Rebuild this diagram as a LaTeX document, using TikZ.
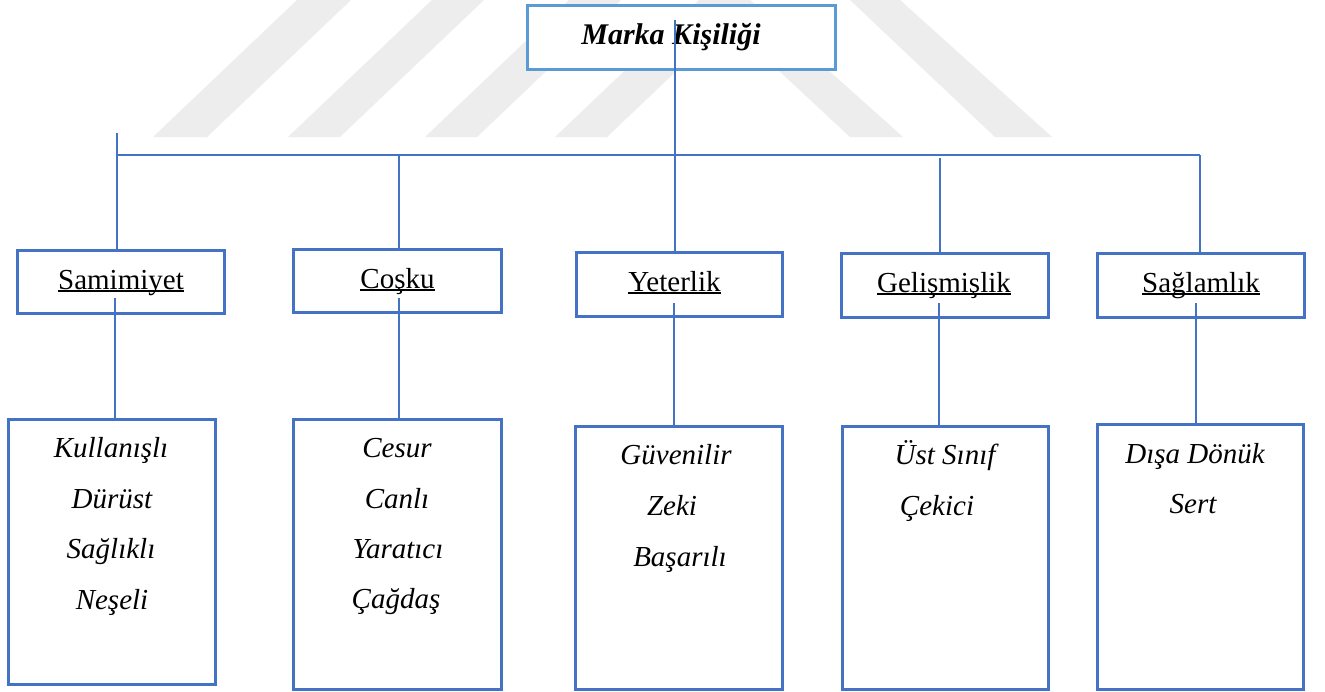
\documentclass[tikz,border=0pt]{standalone}
\usepackage{fontspec}
\setmainfont{Liberation Serif}
\newcommand{\ulinetext}[1]{\setbox0\hbox{#1}\rlap{\rule[-2.6pt]{\wd0}{1.8pt}}\box0}
\definecolor{lineblue}{HTML}{4472C4}
\definecolor{topblue}{HTML}{5B9BD5}
\definecolor{wmgray}{HTML}{EDEDED}
\tikzset{
  box/.style={draw=lineblue, line width=3pt, fill=white, inner sep=0pt},
  topbox/.style={draw=topblue, line width=3pt, fill=white, inner sep=0pt},
  conn/.style={draw=lineblue, line width=1.4pt},
  hconn/.style={draw=lineblue, line width=2pt},
  lbl/.style={anchor=base, inner sep=0pt, font=\fontsize{29}{35}\selectfont},
  ilbl/.style={lbl, font=\fontsize{29}{35}\selectfont\itshape},
  tlbl/.style={lbl, font=\fontsize{30}{36}\selectfont\bfseries\itshape},
  wm/.style={fill=wmgray}
}
\begin{document}
\begin{tikzpicture}[x=1pt,y=-1pt]
\useasboundingbox (0,0) rectangle (1325,691);
\fill[white] (0,0) rectangle (1325,691);
% watermark stripes
\fill[wm] (153,137) -- (207,137) -- (351,0) -- (297,0) -- cycle;
\fill[wm] (288,137) -- (340,137) -- (484,0) -- (432,0) -- cycle;
\fill[wm] (425,137) -- (477,137) -- (621,0) -- (569,0) -- cycle;
\fill[wm] (555,137) -- (607,137) -- (751,0) -- (699,0) -- cycle;
\fill[wm] (703,0) -- (750,0) -- (903,137) -- (850,137) -- cycle;
\fill[wm] (850,0) -- (900,0) -- (1052,137) -- (995,137) -- cycle;

% boxes
\node[topbox, minimum width=308pt, minimum height=64pt] (top) at (681,37) {};
\node[box, minimum width=207pt, minimum height=63pt] (sam) at (120.5,281.5) {};
\node[box, minimum width=208pt, minimum height=63pt] (cos) at (397,280.5) {};
\node[box, minimum width=206pt, minimum height=64pt] (yet) at (679,284) {};
\node[box, minimum width=207pt, minimum height=64pt] (gel) at (944.5,285) {};
\node[box, minimum width=207pt, minimum height=64pt] (sag) at (1200.5,285) {};
\node[box, minimum width=207pt, minimum height=265pt] (kul) at (111.5,551.5) {};
\node[box, minimum width=208pt, minimum height=270pt] (ces) at (397,554) {};
\node[box, minimum width=207pt, minimum height=263pt] (guv) at (678.5,557.5) {};
\node[box, minimum width=206pt, minimum height=263pt] (ust) at (945,557.5) {};
\node[box, minimum width=206pt, minimum height=265pt] (dis) at (1200,556.5) {};

% texts
\node[tlbl] (ttop) at (671,44) {Marka Kişiliği};
\node[lbl] (tsam) at (121,289) {\ulinetext{Samimiyet}};
\node[lbl] (tcos) at (397.5,288) {\ulinetext{Coşku}};
\node[lbl] (tyet) at (674.5,291) {\ulinetext{Yeterlik}};
\node[lbl] (tgel) at (944,292) {\ulinetext{Gelişmişlik}};
\node[lbl] (tsag) at (1201,292) {\ulinetext{Sağlamlık}};

\node[ilbl] (k1) at (111,457) {Kullanışlı};
\node[ilbl] (k2) at (112,508) {Dürüst};
\node[ilbl] (k3) at (111,558) {Sağlıklı};
\node[ilbl] (k4) at (112,609) {Neşeli};

\node[ilbl] (c1) at (397,457) {Cesur};
\node[ilbl] (c2) at (397,508) {Canlı};
\node[ilbl] (c3) at (398,558) {Yaratıcı};
\node[ilbl] (c4) at (396,608) {Çağdaş};

\node[ilbl] (g1) at (676,464) {Güvenilir};
\node[ilbl] (g2) at (672,515) {Zeki};
\node[ilbl] (g3) at (680,566) {Başarılı};

\node[ilbl] (u1) at (945,464) {Üst Sınıf};
\node[ilbl] (u2) at (937,515) {Çekici};

\node[ilbl] (d1) at (1195,463) {Dışa Dönük};
\node[ilbl] (d2) at (1193,513) {Sert};

% connector end points
\coordinate (tstart) at (675,20);
\coordinate (hl) at (117,155);
\coordinate (hr) at (1200,155);
\coordinate (sstart) at (117,133);
\coordinate (cstart) at (399,155);
\coordinate (gstart) at (940,158);
\coordinate (agstart) at (1200,155);
\coordinate (ksam) at (115,298);
\coordinate (kcos) at (399,298);
\coordinate (kyet) at (674,303);
\coordinate (kgel) at (939,303);
\coordinate (ksag) at (1196,303);

% connectors
\draw[hconn] (hl) -- (hr);
\draw[conn] (tstart) -- (tstart |- yet.north);
\draw[conn] (sstart) -- (sstart |- sam.north);
\draw[conn] (cstart) -- (cstart |- cos.north);
\draw[conn] (gstart) -- (gstart |- gel.north);
\draw[conn] (agstart) -- (agstart |- sag.north);
\draw[conn] (ksam) -- (ksam |- kul.north);
\draw[conn] (kcos) -- (kcos |- ces.north);
\draw[conn] (kyet) -- (kyet |- guv.north);
\draw[conn] (kgel) -- (kgel |- ust.north);
\draw[conn] (ksag) -- (ksag |- dis.north);
\end{tikzpicture}
\end{document}
